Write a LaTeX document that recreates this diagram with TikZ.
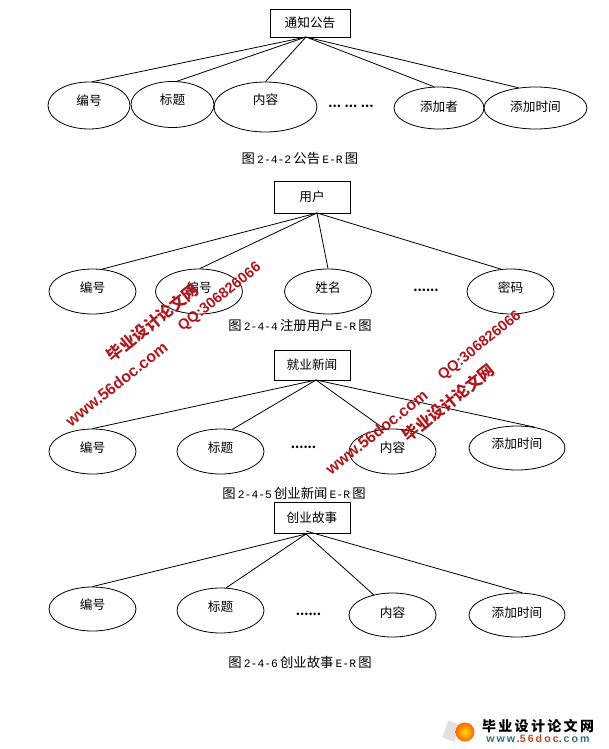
\documentclass[tikz,border=0pt]{standalone}
\usepackage{fontspec}
\setmainfont{Noto Sans CJK SC}
\newfontfamily\monofont{Liberation Mono}
\newfontfamily\wmfont{Liberation Sans}
\newfontfamily\logofont[LetterSpace=19]{Liberation Sans}
\usetikzlibrary{shapes.geometric}
\definecolor{wmred}{RGB}{170,25,30}
\definecolor{logoteal}{RGB}{50,110,120}
\definecolor{logored}{RGB}{190,70,40}
\tikzset{
  entity/.style 2 args={draw,line width=0.6pt,minimum width=#1*0.75pt,minimum height=#2*0.75pt,inner sep=0pt,font=\fontsize{9.5}{11}\selectfont},
  attr/.style 2 args={draw,line width=0.6pt,ellipse,minimum width=#1*0.75pt,minimum height=#2*0.75pt,inner sep=0pt,font=\fontsize{9.5}{11}\selectfont},
  link/.style={line width=0.6pt},
  dots/.style={font=\fontsize{9}{11}\selectfont\bfseries},
  caption/.style={font=\fontsize{10}{12}\selectfont},
  wmlatin/.style={text=wmred,font=\wmfont\bfseries\fontsize{#1}{14}\selectfont,rotate=38.5,inner sep=0pt},
  wmcjk/.style={text=wmred,font=\bfseries\fontsize{12}{14}\selectfont,rotate=39,inner sep=0pt},
}
\newcommand{\up}[2]{\raisebox{#1}{#2}\raisebox{-#1}{\vphantom{#2}}}
\newcommand{\lat}[1]{\,{\monofont\fontsize{8.5}{12}\selectfont #1}\,}
\begin{document}
\begin{tikzpicture}[x=0.75pt,y=-0.75pt]
  \useasboundingbox (0,0) rectangle (608,749);
  % notice
  \node[entity={80}{28}] (notice) at (310,23) {通知公告};
  \coordinate (noticeroot) at (306,37);
  \node[attr={82}{47}] (nid) at (89,105.5) {\up{4pt}{编号}};
  \node[attr={83}{46}] (ntitle) at (172.5,104.5) {\up{3.4pt}{标题}};
  \node[attr={103}{50}] (ncontent) at (265.5,107) {\up{5.2pt}{内容}};
  \node[dots] (ndots) at (351,106) {... ... ...};
  \node[attr={90}{42}] (nauthor) at (439,108) {\up{0.7pt}{添加者}};
  \node[attr={103}{42}] (ntime) at (535.5,108) {\up{0.7pt}{添加时间}};
  \draw[link] (noticeroot) -- (nid.82);
  \draw[link] (noticeroot) -- (ntitle.79);
  \draw[link] (noticeroot) -- (ncontent.90);
  \draw[link] (noticeroot) -- (nauthor.103);
  \draw[link] (noticeroot) -- (ntime.130);
  \node[caption] (cap2) at (300,158) {图\lat{2-4-2}公告\lat{E-R}图};
  % user
  \node[entity={76}{32}] (user) at (312,197) {用户};
  \coordinate (userroot) at (317,213);
  \node[attr={87}{45}] (uid) at (92.5,291.5) {\up{2.6pt}{编号}};
  \node[attr={87}{45}] (uno) at (199,291.5) {\up{2.6pt}{编号}};
  \node[attr={87}{45}] (uname) at (328,291.5) {\up{2.6pt}{姓名}};
  \node[dots] (udots) at (426,290) {......};
  \node[attr={87}{45}] (upass) at (510.5,291.5) {\up{2.6pt}{密码}};
  \draw[link] (userroot) -- (uid.67);
  \draw[link] (userroot) -- (uno.88);
  \draw[link] (userroot) -- (uname.90);
  \draw[link] (userroot) -- (upass.113);
  \node[caption] (cap4) at (300,325) {图\lat{2-4-4}注册用户\lat{E-R}图};
  % job news
  \node[entity={76}{30}] (news) at (312,365) {就业新闻};
  \coordinate (newsroot) at (316,380);
  \node[attr={87}{45}] (jid) at (92.5,451.5) {\up{2.6pt}{编号}};
  \node[attr={87}{45}] (jtitle) at (220.5,451.5) {\up{2.6pt}{标题}};
  \node[dots] (jdots) at (303.5,447) {......};
  \node[attr={87}{45}] (jcontent) at (392.5,451.5) {\up{2.6pt}{内容}};
  \node[attr={96}{44}] (jtime) at (517,448) {\up{3pt}{添加时间}};
  \draw[link] (newsroot) -- (jid.90);
  \draw[link] (newsroot) -- (jtitle.62);
  \draw[link] (newsroot) -- (jcontent.110);
  \draw[link] (newsroot) -- (jtime.50);
  \node[caption] (cap5) at (294,493) {图\lat{2-4-5}创业新闻\lat{E-R}图};
  % start-up story
  \node[entity={76}{31}] (story) at (312,517.5) {创业故事};
  \coordinate (storyroot) at (306,534);
  \coordinate (storyrootb) at (306,531);
  \node[attr={87}{44}] (sid) at (92.5,609) {\up{3pt}{编号}};
  \node[attr={87}{45}] (stitle) at (220.5,610.5) {\up{2.6pt}{标题}};
  \node[dots] (sdots) at (308.5,614) {......};
  \node[attr={87}{44}] (scontent) at (392.5,615) {\up{1.5pt}{内容}};
  \node[attr={96}{44}] (stime) at (517,615) {\up{1.5pt}{添加时间}};
  \draw[link] (storyroot) -- (sid.90);
  \draw[link] (storyroot) -- (stitle.76);
  \draw[link] (storyroot) -- (scontent.133);
  \draw[link] (storyrootb) -- (stime.77);
  \node[caption] (cap6) at (300,662) {图\lat{2-4-6}创业故事\lat{E-R}图};
  % watermarks
  \node[wmlatin=12] (wma) at (116.5,384) {www.56doc.com};
  \node[wmcjk] (wmb) at (152.5,322.5) {毕业设计论文网};
  \node[wmlatin=11] (wmc) at (220,297.5) {QQ:306826066};
  \node[wmlatin=12] (wmd) at (376.5,432) {www.56doc.com};
  \node[wmcjk] (wme) at (448.5,402.5) {毕业设计论文网};
  \node[wmlatin=11] (wmf) at (480,346) {QQ:306826066};
  % logo
  \fill[black!12,rotate around={-20:(451,731)}] (445,722) rectangle (458,740);
  \shade[inner color=yellow!70!orange,outer color=orange!80!red] (465,732) circle (9.5);
  \node[font=\bfseries\fontsize{10.5}{12}\selectfont] (logoa) at (538,726) {毕\,业\,设\,计\,论\,文\,网};
  \node[font=\logofont\bfseries\fontsize{8}{10}\selectfont,text=logoteal] (logob) at (538,739) {www.\textcolor{logored}{56doc}.com};
\end{tikzpicture}
\end{document}
